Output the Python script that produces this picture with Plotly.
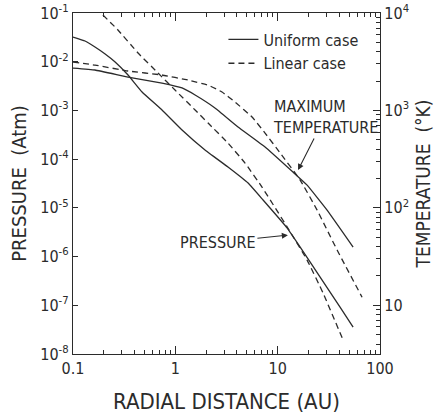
import plotly.graph_objects as go

# ---------------- data ----------------
# Pressure, uniform case (left axis, atm)
r_p_uniform = [0.1, 0.131, 0.164, 0.206, 0.258, 0.345, 0.473, 0.741, 1.163, 1.95, 3.27,
               5.14, 7.2, 12.4, 16.6, 26, 40.7, 54.6]
p_uniform = [3.21e-2, 2.66e-2, 2.0e-2, 1.44e-2, 9.86e-3, 5.33e-3, 2.39e-3, 1.02e-3, 3.96e-4,
             1.54e-4, 6.89e-5, 3.23e-5, 1.45e-5, 3.85e-6, 1.57e-6, 3.79e-7, 9.18e-8, 3.56e-8]

# Pressure, linear case (left axis, atm)
r_p_linear = [0.196, 0.275, 0.432, 0.678, 0.993, 1.56, 2.09, 3.27, 4.80, 7.03, 12.4, 19.4, 27.8, 43.6]
p_linear = [9.1e-2, 4.48e-2, 1.51e-2, 5.86e-3, 2.62e-3, 1.02e-3, 5.51e-4, 2.14e-4, 8.32e-5,
            2.67e-5, 4.04e-6, 8.47e-7, 1.78e-7, 1.93e-8]

# Maximum temperature, uniform case (right axis, K)
r_t_uniform = [0.1, 0.164, 0.345, 0.741, 1.163, 1.56, 2.44, 4.10, 7.53, 14.1, 19.4, 30.4, 54.6]
t_uniform = [2720, 2600, 2200, 1910, 1700, 1440, 1060, 676, 421, 233, 171, 94.8, 39.6]

# Maximum temperature, linear case (right axis, K)
r_t_linear = [0.1, 0.164, 0.345, 0.741, 1.33, 2.09, 2.86, 3.83, 5.62, 7.53, 10.56, 16.6, 24.3, 38.1, 66.8]
t_linear = [3140, 2920, 2540, 2310, 2050, 1820, 1545, 1220, 855, 586, 366, 193, 94.8, 36.9, 12.1]

x_tickvals = [0.1, 1, 10, 100]
x_ticktext = ["0.1", "1", "10", "100"]
p_tickvals = [1e-1, 1e-2, 1e-3, 1e-4, 1e-5, 1e-6, 1e-7, 1e-8]
p_ticktext = ["10<sup>-1</sup>", "10<sup>-2</sup>", "10<sup>-3</sup>", "10<sup>-4</sup>",
              "10<sup>-5</sup>", "10<sup>-6</sup>", "10<sup>-7</sup>", "10<sup>-8</sup>"]
t_tickvals = [1e4, 1e3, 1e2, 1e1]
t_ticktext = ["10<sup>4</sup>", "10<sup>3</sup>", "10<sup>2</sup>", "10"]

# ---------------- styling ----------------
FONT = "DejaVu Sans Condensed, DejaVu Sans, sans-serif"
INK = "#2b2b2b"
DASH = "6px,4px"
LW = 1.3
LINE_U = dict(color=INK, width=LW, shape="spline", smoothing=0.3)
LINE_L = dict(color=INK, width=LW, dash=DASH, shape="spline", smoothing=0.3)

x_minor = [m * 10.0 ** e for e in range(-1, 2) for m in range(2, 10)]
t_minor = [m * 10.0 ** e for e in range(0, 4) for m in range(2, 10)]

fig = go.Figure()

fig.add_trace(go.Scatter(x=r_t_uniform, y=t_uniform, yaxis="y2", mode="lines",
                         name="Uniform case", legendgroup="u", line=LINE_U))
fig.add_trace(go.Scatter(x=r_t_linear, y=t_linear, yaxis="y2", mode="lines",
                         name="Linear case", legendgroup="l", line=LINE_L))
fig.add_trace(go.Scatter(x=r_p_uniform, y=p_uniform, mode="lines",
                         name="Uniform case", legendgroup="u", showlegend=False, line=LINE_U))
fig.add_trace(go.Scatter(x=r_p_linear, y=p_linear, mode="lines",
                         name="Linear case", legendgroup="l", showlegend=False, line=LINE_L))

fig.update_layout(
    width=435, height=415,
    margin=dict(l=73, r=55, t=13, b=61, autoexpand=False),
    paper_bgcolor="white", plot_bgcolor="white",
    font=dict(family=FONT, color=INK, size=15),
    showlegend=True,
    legend=dict(x=0.49, y=0.972, xanchor="left", yanchor="top",
                bgcolor="rgba(0,0,0,0)", borderwidth=0,
                font=dict(family=FONT, size=16, color=INK),
                tracegroupgap=0, itemwidth=30),
    xaxis=dict(type="log", range=[-1, 2], showgrid=False, zeroline=False,
               showline=True, linecolor=INK, linewidth=1.3, mirror="ticks",
               ticks="inside", ticklen=8, tickwidth=1, tickcolor=INK,
               tickvals=x_tickvals, ticktext=x_ticktext,
               tickfont=dict(family=FONT, size=16, color=INK),
               minor=dict(tickvals=x_minor, ticks="inside", ticklen=4, tickcolor=INK, showgrid=False),
               title=dict(text="RADIAL DISTANCE (AU)", standoff=16,
                          font=dict(family=FONT, size=22, color=INK))),
    yaxis=dict(type="log", range=[-8, -1], showgrid=False, zeroline=False,
               showline=True, linecolor=INK, linewidth=1.3,
               ticks="inside", ticklen=5, tickwidth=1, tickcolor=INK,
               tickvals=p_tickvals, ticktext=p_ticktext,
               tickfont=dict(family=FONT, size=16, color=INK),
               title=dict(text="PRESSURE  (Atm)", standoff=8,
                          font=dict(family=FONT, size=20, color=INK))),
    yaxis2=dict(type="log", range=[0.5, 4], overlaying="y", side="right",
                showgrid=False, zeroline=False,
                showline=True, linecolor=INK, linewidth=1.3,
                ticks="inside", ticklen=7, tickwidth=1, tickcolor=INK,
                tickvals=t_tickvals, ticktext=t_ticktext,
                tickfont=dict(family=FONT, size=16, color=INK),
                minor=dict(tickvals=t_minor, ticks="inside", ticklen=4, tickcolor=INK, showgrid=False),
                title=dict(text="TEMPERATURE  (°K)", standoff=8,
                           font=dict(family=FONT, size=19, color=INK))),
)

fig.add_annotation(x=1.10, y=-5.56, xref="x", yref="y",
                   text="PRESSURE", showarrow=True, arrowhead=2, arrowsize=1.1,
                   arrowwidth=1.1, arrowcolor=INK, ax=-70, ay=7,
                   font=dict(family=FONT, size=16, color=INK))
fig.add_annotation(x=1.199, y=2.388, xref="x", yref="y2",
                   text="MAXIMUM<br>TEMPERATURE", align="left",
                   showarrow=True, arrowhead=2, arrowsize=1.1,
                   arrowwidth=1.1, arrowcolor=INK, ax=27, ay=-53,
                   font=dict(family=FONT, size=16, color=INK))

fig.write_html("out.html")
